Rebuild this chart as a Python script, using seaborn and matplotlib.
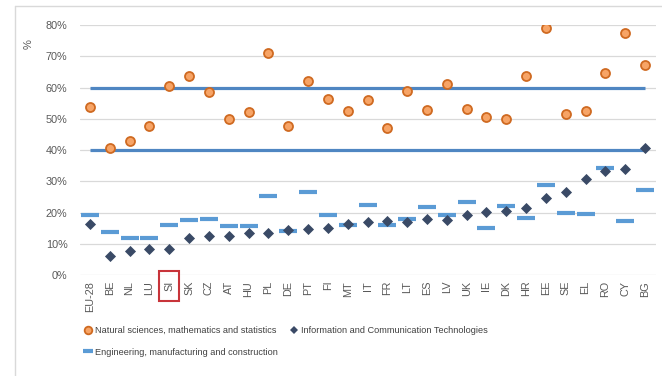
import matplotlib
matplotlib.use("Agg")
import matplotlib.pyplot as plt
import matplotlib.transforms as mtransforms
from matplotlib.patches import Rectangle
from matplotlib.lines import Line2D
import seaborn as sns
import pandas as pd

countries = ["EU-28", "BE", "NL", "LU", "SI", "SK", "CZ", "AT", "HU", "PL", "DE", "PT", "FI", "MT",
             "IT", "FR", "LT", "ES", "LV", "UK", "IE", "DK", "HR", "EE", "SE", "EL", "RO", "CY", "BG"]
natural = [53.7, 40.8, 42.9, 47.7, 60.6, 63.8, 58.7, 50.1, 52.1, 70.9, 47.7, 62.0, 56.3, 52.6,
           55.9, 47.2, 59.0, 52.9, 61.1, 53.1, 50.5, 49.9, 63.6, 79.1, 51.5, 52.6, 64.7, 77.5, 67.1]
ict = [16.5, 6.1, 7.7, 8.5, 8.5, 11.9, 12.5, 12.5, 13.6, 13.6, 14.5, 14.9, 15.2, 16.4,
       16.9, 17.3, 17.0, 17.9, 17.7, 19.2, 20.1, 20.4, 21.4, 24.8, 26.6, 30.7, 33.3, 33.9, 40.6]
engineering = [19.3, 13.7, 12.0, 12.0, 16.1, 17.7, 18.0, 15.8, 15.8, 25.5, 14.1, 26.7, 19.3, 16.1,
               22.5, 16.1, 18.1, 21.7, 19.3, 23.3, 15.2, 22.3, 18.2, 29.0, 19.8, 19.6, 34.3, 17.5, 27.4]
thresholds = [40, 60]
yticks = [0, 10, 20, 30, 40, 50, 60, 70, 80]
highlight = "SI"
labels = ["Natural sciences, mathematics and statistics",
          "Information and Communication Technologies",
          "Engineering, manufacturing and construction"]

df = pd.DataFrame({"country": countries, "nat": natural, "ict": ict, "eng": engineering})

sns.set_style("white")
plt.rcParams["font.family"] = ["Liberation Sans", "DejaVu Sans"]

W, H = 662, 376
fig = plt.figure(figsize=(W / 100, H / 100), dpi=100)
ax = fig.add_axes([80 / W, 1 - 275.3 / H, (656 - 80) / W, (275.3 - 25) / H])

grid_c = "#d9d9d9"
for v in yticks:
    ax.axhline(v, color=grid_c, lw=0.9, zorder=0)

line_c = "#4f86c2"
ax.hlines(thresholds, 0, len(countries) - 1, color=line_c, lw=2.3, zorder=1)

orange_fill = "#f7a466"
orange_edge = "#cf6a21"
navy = "#3a4a66"
dash_c = "#5b9bd5"

sns.scatterplot(data=df, x="country", y="eng", marker="_", s=150, color=dash_c,
                linewidth=3.0, ax=ax, zorder=3, legend=False)
sns.scatterplot(data=df, x="country", y="ict", marker="D", s=32, color=navy,
                edgecolor=navy, linewidth=0, ax=ax, zorder=4, legend=False)
sns.scatterplot(data=df, x="country", y="nat", marker="o", s=42, color=orange_fill,
                edgecolor=orange_edge, linewidth=1.3, ax=ax, zorder=5, legend=False)

ax.set_xlim(-0.5, len(countries) - 0.45)
ax.set_ylim(0, 80)
ax.set_yticks(yticks)
ax.set_yticklabels([f"{v}%" for v in yticks])
ax.set_xticks(range(len(countries)))
ax.set_xticklabels(countries, rotation=90)
ax.tick_params(axis="both", length=0, labelsize=7.8, colors="#595959")
ax.tick_params(axis="x", pad=4)
ax.tick_params(axis="y", pad=9)
ax.set_xlabel("")
ax.set_ylabel("")
for s in ax.spines.values():
    s.set_visible(False)

fig.text(29 / W, 1 - 44 / H, "%", rotation=90, fontsize=8, color="#595959",
         ha="center", va="center")

# highlight box around SI label
idx = countries.index(highlight)
trans = mtransforms.blended_transform_factory(ax.transData, fig.transFigure)
ax.add_patch(Rectangle((idx - 0.5, 1 - 301 / H), 1.0, 30 / H, transform=trans,
                       fill=False, edgecolor="#c8343a", lw=1.5, clip_on=False, zorder=6))

# chart frame
fig.add_artist(Line2D([15 / W, 1], [1 - 6 / H, 1 - 6 / H], color=grid_c, lw=1))
fig.add_artist(Line2D([15 / W, 15 / W], [0, 1 - 6 / H], color=grid_c, lw=1))

handles = [
    Line2D([], [], marker="o", ls="", markersize=5.5, markerfacecolor=orange_fill,
           markeredgecolor=orange_edge, markeredgewidth=1.3),
    Line2D([], [], marker="_", ls="", markersize=7, color=dash_c, markeredgewidth=3),
    Line2D([], [], marker="D", ls="", markersize=4.2, color=navy, markeredgewidth=0),
]
leg = fig.legend(handles, [labels[0], labels[2], labels[1]], ncol=2,
                 loc="upper left", bbox_to_anchor=(76 / W, 1 - 318 / H),
                 frameon=False, fontsize=6.6, handlelength=0.9, handletextpad=0.3,
                 columnspacing=1.3, labelspacing=1.35, labelcolor="#404040")

fig.savefig("out.png", dpi=100)
